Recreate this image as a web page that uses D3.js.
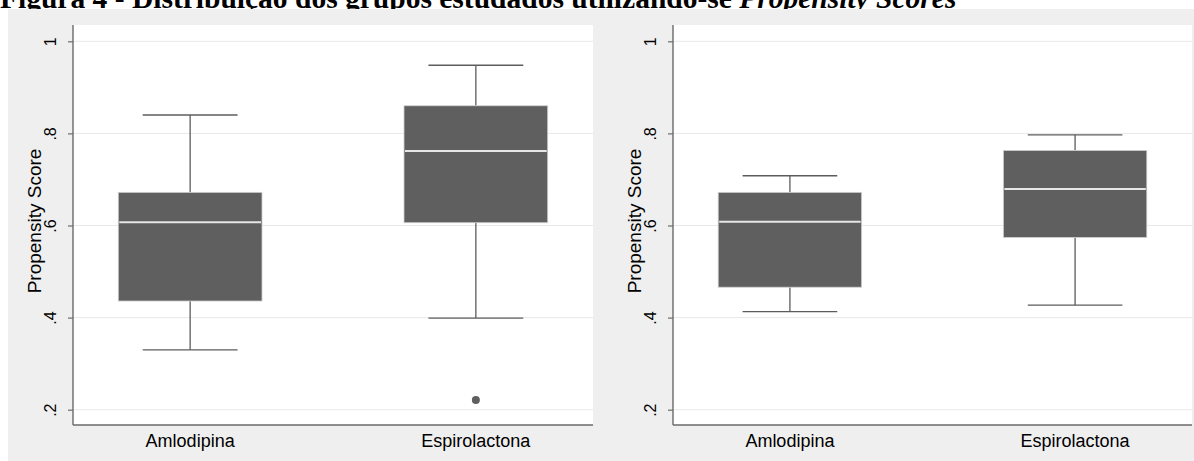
<!DOCTYPE html>
<html>
<head>
<meta charset="utf-8">
<script src="https://cdn.jsdelivr.net/npm/d3@7"></script>
<style>
  html, body { margin: 0; padding: 0; background: #ffffff; }
  svg { display: block; }
</style>
</head>
<body>
<svg id="chart" width="1194" height="461"></svg>
<script>
// ---- data ----
const categories = ["Amlodipina", "Espirolactona"];
const yTickValues = [0.2, 0.4, 0.6, 0.8, 1];
const yTickLabels = [".2", ".4", ".6", ".8", "1"];
const yAxisTitle = "Propensity Score";
const titleMain = "Figura 4 - Distribuição dos grupos estudados utilizando-se ";
const titleItalic = "Propensity Scores";

// Panel 1 (left)
const lowerWhisker1 = [0.330, 0.399];
const q1_1 = [0.436, 0.606];
const median1 = [0.607, 0.762];
const q3_1 = [0.672, 0.860];
const upperWhisker1 = [0.840, 0.948];
const outliers1 = [[], [0.221]];

// Panel 2 (right)
const lowerWhisker2 = [0.413, 0.427];
const q1_2 = [0.466, 0.574];
const median2 = [0.608, 0.679];
const q3_2 = [0.672, 0.763];
const upperWhisker2 = [0.708, 0.797];
const outliers2 = [[], []];

// ---- drawing ----
const svg = d3.select("#chart");
const FONT = "'Liberation Sans', Arial, Helvetica, sans-serif";

// title
const title = svg.append("text")
  .attr("x", 0).attr("y", 8)
  .attr("font-family", "'Liberation Serif', 'Times New Roman', serif")
  .attr("font-weight", "bold")
  .attr("font-size", 29.5)
  .attr("fill", "#000");
title.append("tspan").text(titleMain);
title.append("tspan").attr("font-style", "italic").text(titleItalic);

// graph background
svg.append("rect")
  .attr("x", 8).attr("y", 9).attr("width", 1186).attr("height", 452)
  .attr("fill", "#efefef");

function panel(x0, x1, lw, q1, med, q3, uw, outl) {
  const top = 25, bottom = 425;
  const g = svg.append("g");
  g.append("rect")
    .attr("x", x0).attr("y", top).attr("width", x1 - x0).attr("height", bottom - top)
    .attr("fill", "#ffffff");

  const y = d3.scaleLinear().domain([0.2, 1]).range([409.7, 41.3]);
  const x = d3.scalePoint().domain(categories).range([x0, x1]).padding(0.41);
  const boxW = x.step() * 0.503;
  const capW = boxW * 0.66;

  // grid
  g.selectAll(".grid").data(yTickValues).enter().append("line")
    .attr("x1", x0).attr("x2", x1)
    .attr("y1", d => y(d)).attr("y2", d => y(d))
    .attr("stroke", "#e8e8e8").attr("stroke-width", 1);

  // y axis
  const yAxis = d3.axisLeft(y).tickValues(yTickValues)
    .tickFormat((d, i) => yTickLabels[i]).tickSize(5).tickPadding(0);
  const ax = g.append("g").attr("transform", `translate(${x0},0)`).call(yAxis);
  ax.select(".domain").remove();
  ax.selectAll(".tick line").attr("stroke", "#6a6a6a").attr("stroke-width", 1.2);
  ax.selectAll(".tick text")
    .attr("font-family", FONT).attr("font-size", 16).attr("fill", "#000")
    .attr("x", 0).attr("dy", 0)
    .attr("text-anchor", "middle")
    .attr("transform", `translate(-17,0) rotate(-90)`);

  // axis lines
  g.append("line").attr("x1", x0).attr("x2", x0).attr("y1", top).attr("y2", bottom)
    .attr("stroke", "#6a6a6a").attr("stroke-width", 1.4);
  g.append("line").attr("x1", x0).attr("x2", x1).attr("y1", bottom).attr("y2", bottom)
    .attr("stroke", "#6a6a6a").attr("stroke-width", 1.4);

  // axis title
  g.append("text")
    .attr("transform", `translate(${x0 - 32},${(top + bottom) / 2 - 4}) rotate(-90)`)
    .attr("text-anchor", "middle")
    .attr("font-family", FONT).attr("font-size", 19).attr("fill", "#000")
    .text(yAxisTitle);

  // category labels
  g.selectAll(".cat").data(categories).enter().append("text")
    .attr("x", d => x(d)).attr("y", 447)
    .attr("text-anchor", "middle")
    .attr("font-family", FONT).attr("font-size", 18).attr("fill", "#000")
    .text(d => d);

  const idx = categories.map((c, i) => i);
  const wc = "#5c5c5c";
  idx.forEach(i => {
    const cx = x(categories[i]);
    g.append("line").attr("x1", cx).attr("x2", cx).attr("y1", y(uw[i])).attr("y2", y(q3[i]))
      .attr("stroke", wc).attr("stroke-width", 1.3);
    g.append("line").attr("x1", cx).attr("x2", cx).attr("y1", y(q1[i])).attr("y2", y(lw[i]))
      .attr("stroke", wc).attr("stroke-width", 1.3);
    g.append("line").attr("x1", cx - capW / 2).attr("x2", cx + capW / 2)
      .attr("y1", y(uw[i])).attr("y2", y(uw[i]))
      .attr("stroke", wc).attr("stroke-width", 1.3);
    g.append("line").attr("x1", cx - capW / 2).attr("x2", cx + capW / 2)
      .attr("y1", y(lw[i])).attr("y2", y(lw[i]))
      .attr("stroke", wc).attr("stroke-width", 1.3);
    g.append("rect")
      .attr("x", cx - boxW / 2).attr("y", y(q3[i]))
      .attr("width", boxW).attr("height", y(q1[i]) - y(q3[i]))
      .attr("fill", "#5f5f5f").attr("stroke", "#d0d0d0").attr("stroke-width", 0.8);
    g.append("line").attr("x1", cx - boxW / 2 + 1).attr("x2", cx + boxW / 2 - 1)
      .attr("y1", y(med[i])).attr("y2", y(med[i]))
      .attr("stroke", "#e6e6e6").attr("stroke-width", 2);
    outl[i].forEach(v => {
      g.append("circle").attr("cx", cx).attr("cy", y(v)).attr("r", 4)
        .attr("fill", "#5f5f5f");
    });
  });
}

panel(73, 593, lowerWhisker1, q1_1, median1, q3_1, upperWhisker1, outliers1);
panel(673, 1192, lowerWhisker2, q1_2, median2, q3_2, upperWhisker2, outliers2);
</script>
</body>
</html>
